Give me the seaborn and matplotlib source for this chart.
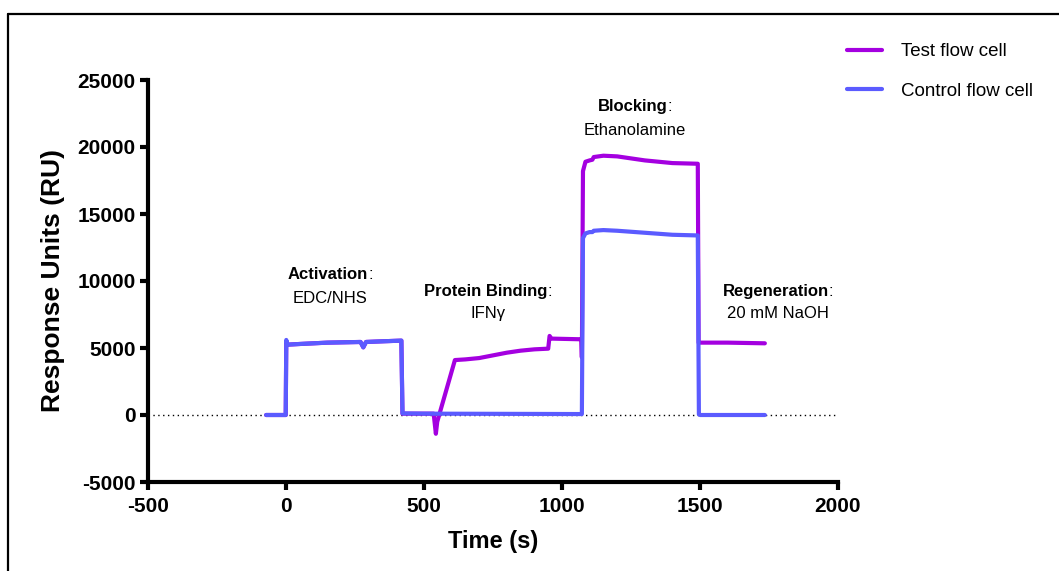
import numpy as np
import pandas as pd
import matplotlib
matplotlib.use("Agg")
import matplotlib.pyplot as plt
from matplotlib.lines import Line2D
import seaborn as sns

# ---- data ----
test_time = [-72, -1, 1, 5, 50, 150, 270, 280, 290, 350, 418, 422, 500, 535,
             543, 548, 612, 650, 700, 750, 800, 850, 900, 950, 955, 962, 1070, 1072,
             1076, 1085, 1100, 1110, 1115, 1150, 1200, 1300, 1400, 1492,
             1495, 1600, 1735]
test_resp = [0, 0, 5500, 5250, 5300, 5400, 5450, 5050, 5450, 5500, 5550, 100, 100, 100,
             -1400, -500, 4100, 4150, 4250, 4450, 4650, 4800, 4900, 4950, 5900, 5700, 5650, 4300,
             18200, 18900, 19000, 19050, 19250, 19350, 19300, 19000, 18800, 18750,
             5400, 5400, 5350]

ctrl_time = [-72, -1, 1, 5, 50, 150, 270, 280, 290, 350, 418, 422, 500, 700,
             900, 1072, 1076, 1085, 1100, 1110, 1115, 1150, 1200, 1300, 1400,
             1492, 1496, 1500, 1600, 1735]
ctrl_resp = [0, 0, 5600, 5250, 5300, 5400, 5450, 5050, 5450, 5500, 5550, 120, 100, 90,
             80, 70, 13200, 13550, 13650, 13650, 13750, 13800, 13750, 13600, 13450,
             13400, 50, 0, 0, 0]

series_names = ["Test flow cell", "Control flow cell"]
series_colors = ["#A400E0", "#5B5BFF"]

x_ticks = [-500, 0, 500, 1000, 1500, 2000]
y_ticks = [-5000, 0, 5000, 10000, 15000, 20000, 25000]

annotations = [
    ("Activation", "EDC/NHS", 160, 10450, 8700),
    ("Protein Binding", "IFNγ", 732, 9250, 7600),
    ("Blocking", "Ethanolamine", 1264, 23050, 21250),
    ("Regeneration", "20 mM NaOH", 1783, 9250, 7600),
]

df = pd.concat([
    pd.DataFrame({"Time": test_time, "Response": test_resp, "Series": series_names[0]}),
    pd.DataFrame({"Time": ctrl_time, "Response": ctrl_resp, "Series": series_names[1]}),
], ignore_index=True)

sns.set_style("ticks")
plt.rcParams["font.family"] = ["Liberation Sans", "DejaVu Sans"]
plt.rcParams["text.color"] = "black"
plt.rcParams["axes.labelcolor"] = "black"
plt.rcParams["xtick.color"] = "black"
plt.rcParams["ytick.color"] = "black"

W, H = 1059, 571
fig = plt.figure(figsize=(W / 100, H / 100), dpi=100)
ax = fig.add_axes([148 / W, 1 - 482 / H, (838 - 148) / W, (482 - 80) / H])

ax.axhline(0, color="black", lw=1.0, ls=(0, (1, 2.5)), zorder=1)

sns.lineplot(data=df, x="Time", y="Response", hue="Series", hue_order=series_names,
             palette=series_colors, sort=False, estimator=None, lw=3.0,
             ax=ax, legend=False, zorder=3)

ax.set_xlim(-500, 2000)
ax.set_ylim(-5000, 25000)
ax.set_xticks(x_ticks)
ax.set_yticks(y_ticks)
ax.set_xticklabels([str(v) for v in x_ticks])
ax.set_yticklabels([str(v) for v in y_ticks])
for lab in ax.get_xticklabels() + ax.get_yticklabels():
    lab.set_fontweight("bold")
    lab.set_fontsize(15)
    lab.set_color("black")
ax.tick_params(axis="both", direction="out", length=6, width=3, colors="black")
ax.tick_params(axis="x", pad=5)
ax.tick_params(axis="y", pad=3)
for s in ["top", "right"]:
    ax.spines[s].set_visible(False)
for s in ["left", "bottom"]:
    ax.spines[s].set_linewidth(3)
    ax.spines[s].set_color("black")
    ax.spines[s].set_capstyle("projecting")

ax.set_xlabel("Time (s)", fontsize=17, fontweight="bold", labelpad=10, color="black")
ax.set_ylabel("Response Units (RU)", fontsize=19, fontweight="bold", labelpad=9, color="black")

for bold, sub, x, y1, y2 in annotations:
    t = ax.text(x - 8, y1, bold, fontsize=12, fontweight="bold", ha="center", va="center",
                color="black")
    ax.annotate(":", xy=(1, 0), xycoords=t, fontsize=12, ha="left", va="bottom", color="black")
    ax.text(x, y2, sub, fontsize=12, ha="center", va="center", color="black")

handles = [Line2D([0], [0], color=c, lw=3.0) for c in series_colors]
fig.legend(handles, series_names, loc="upper left", bbox_to_anchor=(847 / W, 1 - 43 / H),
           frameon=False, fontsize=13.5, borderpad=0, borderaxespad=0,
           handlelength=1.85, handletextpad=1.05, labelspacing=1.2,
           labelcolor="black")

# figure border (left and top edges visible)
fig.add_artist(Line2D([7.5 / W, 7.5 / W], [-0.05, 1 - 14 / H], transform=fig.transFigure,
                      color="black", lw=1.6))
fig.add_artist(Line2D([7.5 / W, 1.05], [1 - 14 / H, 1 - 14 / H], transform=fig.transFigure,
                      color="black", lw=1.6))

fig.savefig("out.png", dpi=100)
